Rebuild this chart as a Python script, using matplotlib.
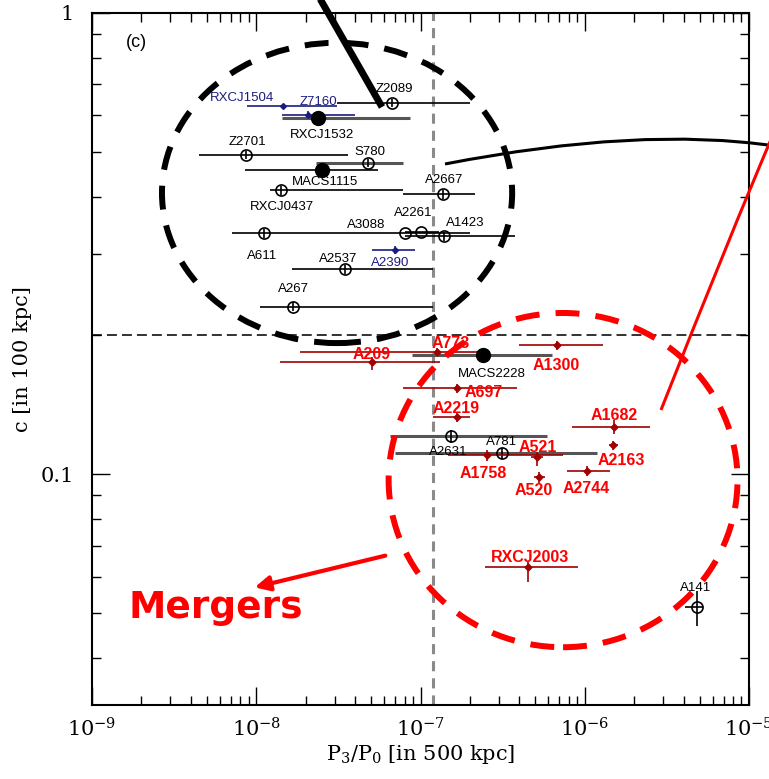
import matplotlib.pyplot as plt
import numpy as np
from matplotlib.patches import Ellipse, FancyArrowPatch, PathPatch
from matplotlib.path import Path
from matplotlib.ticker import NullFormatter

plt.rcParams['mathtext.fontset'] = 'dejavuserif'

# Cluster sample: power ratio P3/P0 (500 kpc) and concentration c (100 kpc)
names = ['Z2089', 'RXCJ1504', 'Z7160', 'RXCJ1532', 'Z2701', 'S780',
         'MACS1115', 'RXCJ0437', 'A2667', 'A611', 'A3088', 'A2261',
         'A1423', 'A2537', 'A2390', 'A267', 'A209', 'A773', 'MACS2228',
         'A1300', 'A697', 'A2219', 'A2631', 'A781', 'A1758', 'A521',
         'A520', 'A2744', 'A1682', 'A2163', 'RXCJ2003', 'A141']
kinds = ['open', 'blue', 'blue', 'filled', 'open', 'open',
         'filled', 'open', 'open', 'open', 'open', 'open',
         'open', 'open', 'blue', 'open', 'red', 'red', 'filled',
         'red', 'red', 'red', 'open', 'open', 'red', 'red',
         'red', 'red', 'red', 'red', 'red', 'open']
p3p0 = [6.7e-8, 1.46e-8, 2.07e-8, 2.38e-8, 8.7e-9, 4.8e-8,
        2.5e-8, 1.41e-8, 1.37e-7, 1.11e-8, 8.0e-8, 1.01e-7,
        1.39e-7, 3.47e-8, 7.0e-8, 1.68e-8, 5.1e-8, 1.26e-7, 2.4e-7,
        6.8e-7, 1.67e-7, 1.67e-7, 1.53e-7, 3.13e-7, 2.54e-7, 5.1e-7,
        5.3e-7, 1.03e-6, 1.51e-6, 1.49e-6, 4.5e-7, 4.8e-6]
p3p0_lo = [3.1e-8, 8.8e-9, 1.44e-8, 1.44e-8, 4.5e-9, 2.3e-8,
           8.5e-9, 1.21e-8, 7.8e-8, 7.1e-9, 2.8e-8, 8.0e-8,
           8.0e-8, 1.65e-8, 5.1e-8, 1.05e-8, 1.4e-8, 1.85e-8, 8.9e-8,
           4.0e-7, 7.8e-8, 1.19e-7, 6.5e-8, 7.0e-8, 1.47e-7, 4.7e-7,
           4.9e-7, 7.8e-7, 8.4e-7, 1.40e-6, 2.47e-7, 4.07e-6]
p3p0_hi = [2.0e-7, 3.1e-8, 4.0e-8, 8.6e-8, 3.6e-8, 7.8e-8,
           5.5e-8, 7.8e-8, 2.15e-7, 2.8e-8, 2.0e-7, 1.3e-7,
           3.76e-7, 1.19e-7, 9.3e-8, 1.19e-7, 1.32e-7, 2.3e-7, 6.3e-7,
           1.29e-6, 3.87e-7, 2.0e-7, 5.9e-7, 1.19e-6, 7.4e-7, 5.6e-7,
           5.7e-7, 1.43e-6, 2.49e-6, 1.6e-6, 9.1e-7, 5.25e-6]
conc = [0.638, 0.628, 0.601, 0.592, 0.492, 0.473,
        0.456, 0.413, 0.405, 0.333, 0.333, 0.335,
        0.328, 0.278, 0.306, 0.231, 0.175, 0.184, 0.181,
        0.1905, 0.1536, 0.1329, 0.1209, 0.111, 0.110, 0.1088,
        0.0985, 0.1015, 0.1265, 0.1156, 0.0629, 0.0517]
conc_lo = [0.625, 0.628, 0.590, 0.592, 0.482, 0.463,
           0.456, 0.404, 0.396, 0.326, 0.333, 0.335,
           0.321, 0.272, 0.300, 0.226, 0.168, 0.180, 0.181,
           0.186, 0.150, 0.130, 0.117, 0.108, 0.107, 0.104,
           0.096, 0.099, 0.122, 0.113, 0.0583, 0.047]
conc_hi = [0.650, 0.628, 0.612, 0.592, 0.502, 0.483,
           0.456, 0.422, 0.414, 0.340, 0.333, 0.335,
           0.335, 0.284, 0.312, 0.236, 0.180, 0.188, 0.181,
           0.195, 0.157, 0.136, 0.125, 0.114, 0.113, 0.1116,
           0.101, 0.104, 0.131, 0.118, 0.0645, 0.056]

# Thresholds separating merging and relaxed systems
p3p0_cut = 1.19e-7
conc_cut = 0.2

# Label offsets (pixels) from each cluster
label_offsets = {
    'Z2089': (2, 14), 'RXCJ1504': (-41, 8), 'Z7160': (10, 13),
    'RXCJ1532': (4, -17), 'Z2701': (1, 13), 'S780': (2, 11),
    'MACS1115': (3, -12), 'RXCJ0437': (1, -17), 'A2667': (1, 14),
    'A611': (-2, -23), 'A3088': (-38, 8), 'A2261': (-8, 19),
    'A1423': (21, 13), 'A2537': (-7, 10), 'A2390': (-5, -13),
    'A267': (0, 18), 'A209': (-1, 8), 'A773': (14, 9),
    'MACS2228': (9, -19), 'A1300': (-1, -20), 'A697': (27, -4),
    'A2219': (-1, 9), 'A2631': (-3, -16), 'A781': (0, 11),
    'A1758': (-4, -18), 'A521': (1, 10), 'A520': (-6, -13),
    'A2744': (-1, -17), 'A1682': (0, 12), 'A2163': (8, -15),
    'RXCJ2003': (2, 10), 'A141': (-1, 19),
}
grey_bars = {'RXCJ1532', 'S780', 'MACS2228', 'A2631', 'A781'}

styles = {
    'open': dict(marker='o', ms=8, mfc='none', mec='black', mew=1.2,
                 bar='black', text='black', size=9.5, weight='normal'),
    'filled': dict(marker='o', ms=10, mfc='black', mec='black', mew=1.0,
                   bar='black', text='black', size=9.5, weight='normal'),
    'blue': dict(marker='D', ms=3, mfc='#1c1c80', mec='#1c1c80', mew=1.0,
                 bar='#1c1c80', text='#1c1c80', size=9.5, weight='normal'),
    'red': dict(marker='D', ms=3.5, mfc='#a00000', mec='#a00000', mew=1.0,
                bar='#a00000', text='#ff0000', size=11.5, weight='bold'),
}


def px_fig(x, y):
    """Convert pixel position in the 769x779 canvas to figure fraction."""
    return x / 769.0, 1.0 - y / 779.0


def plot_data():
    """
    Plot concentration against power ratio with the merger annotations.
    :return: None
    """

    figure = plt.figure(figsize=(7.69, 7.79), dpi=100)
    ax = figure.add_axes([92 / 769, 1 - 705 / 779, 657 / 769, 692 / 779])
    ax.set_xscale('log')
    ax.set_yscale('log')
    ax.set_xlim(1e-9, 1e-5)
    ax.set_ylim(10 ** -1.5, 1)

    # Dividing lines
    ax.axvline(p3p0_cut, color='#8a8a8a', lw=2.2, ls=(0, (3.3, 2.3)), zorder=1)
    ax.axhline(conc_cut, color='#222222', lw=1.3, ls=(0, (5.5, 2.8)), zorder=1)

    # Clusters with error bars and names
    x = np.array(p3p0)
    y = np.array(conc)
    xerr = np.vstack([x - np.array(p3p0_lo), np.array(p3p0_hi) - x])
    yerr = np.vstack([y - np.array(conc_lo), np.array(conc_hi) - y])
    for i, name in enumerate(names):
        st = styles[kinds[i]]
        bar = '#555555' if name in grey_bars else st['bar']
        blw = 2.2 if name in grey_bars else 1.2
        ax.errorbar(x[i], y[i], xerr=xerr[:, i:i + 1], fmt='none',
                    ecolor=bar, elinewidth=blw, capsize=0, zorder=2)
        ax.errorbar(x[i], y[i], yerr=yerr[:, i:i + 1], fmt='none',
                    ecolor=st['bar'], elinewidth=1.2, capsize=0, zorder=2)
        ax.plot(x[i], y[i], ls='none', marker=st['marker'], ms=st['ms'],
                mfc=st['mfc'], mec=st['mec'], mew=st['mew'], zorder=3)
        dx, dy = label_offsets[name]
        ax.annotate(name, (x[i], y[i]), xytext=(dx * 0.72, dy * 0.72),
                    textcoords='offset points', ha='center', va='center',
                    color=st['text'], fontsize=st['size'],
                    fontweight=st['weight'], family='Liberation Sans',
                    zorder=4)

    ax.text(0.068, 0.958, '(c)', transform=ax.transAxes, fontsize=13,
            family='Liberation Sans', ha='center', va='center')

    # Axes formatting
    ax.set_xticks([1e-9, 1e-8, 1e-7, 1e-6, 1e-5])
    ax.set_xticklabels([r'$10^{-9}$', r'$10^{-8}$', r'$10^{-7}$',
                        r'$10^{-6}$', r'$10^{-5}$'])
    ax.set_yticks([0.1, 1])
    ax.set_yticklabels(['0.1', '1'], family='DejaVu Serif')
    ax.xaxis.set_minor_formatter(NullFormatter())
    ax.yaxis.set_minor_formatter(NullFormatter())
    ax.tick_params(which='both', direction='in', top=True, right=True,
                   width=1.0, labelsize=15)
    ax.tick_params(which='major', length=13)
    ax.tick_params(which='minor', length=6.5)
    ax.tick_params(axis='x', pad=9)
    ax.tick_params(axis='y', pad=13)
    for spine in ax.spines.values():
        spine.set_linewidth(1.5)
    ax.set_xlabel(r'P$_3$/P$_0$ [in 500 kpc]', family='DejaVu Serif',
                  fontsize=15, labelpad=2)
    ax.set_ylabel('c [in 100 kpc]', family='DejaVu Serif', fontsize=15,
                  labelpad=6)

    # Dashed rings around the relaxed and merging groups
    dash = (0, (4.0, 2.7))
    ax.add_patch(Ellipse((0.373, 0.740), 0.533, 0.434, transform=ax.transAxes,
                         fill=False, ec='black', lw=4.3, ls=dash, zorder=5))
    ax.add_patch(Ellipse((0.717, 0.325), 0.531, 0.483, transform=ax.transAxes,
                         fill=False, ec='#ff0000', lw=4.3, ls=dash, zorder=5))

    # Connector lines running off the panel
    figure.add_artist(plt.Line2D(*zip(px_fig(315, -10), px_fig(382, 107)),
                                 color='black', lw=5, solid_capstyle='butt'))
    black_curve = Path([px_fig(445, 164), px_fig(640, 126), px_fig(775, 146)],
                       [Path.MOVETO, Path.CURVE3, Path.CURVE3])
    figure.add_artist(PathPatch(black_curve, transform=figure.transFigure,
                                fill=False, ec='black', lw=2.2))
    red_curve = Path([px_fig(661, 410), px_fig(730, 235), px_fig(775, 130)],
                     [Path.MOVETO, Path.CURVE3, Path.CURVE3])
    figure.add_artist(PathPatch(red_curve, transform=figure.transFigure,
                                fill=False, ec='#ff0000', lw=2.2))

    # Merger callout
    figure.add_artist(FancyArrowPatch(px_fig(388, 555), px_fig(252, 588),
                                      transform=figure.transFigure,
                                      arrowstyle='-|>', mutation_scale=22,
                                      color='#ff0000', lw=3))
    figure.text(*px_fig(216, 608), 'Mergers', color='#ff0000', fontsize=27,
                fontweight='bold', family='DejaVu Sans', ha='center',
                va='center')

    figure.savefig('out.png', dpi=100)


if __name__ == '__main__':
    plot_data()
